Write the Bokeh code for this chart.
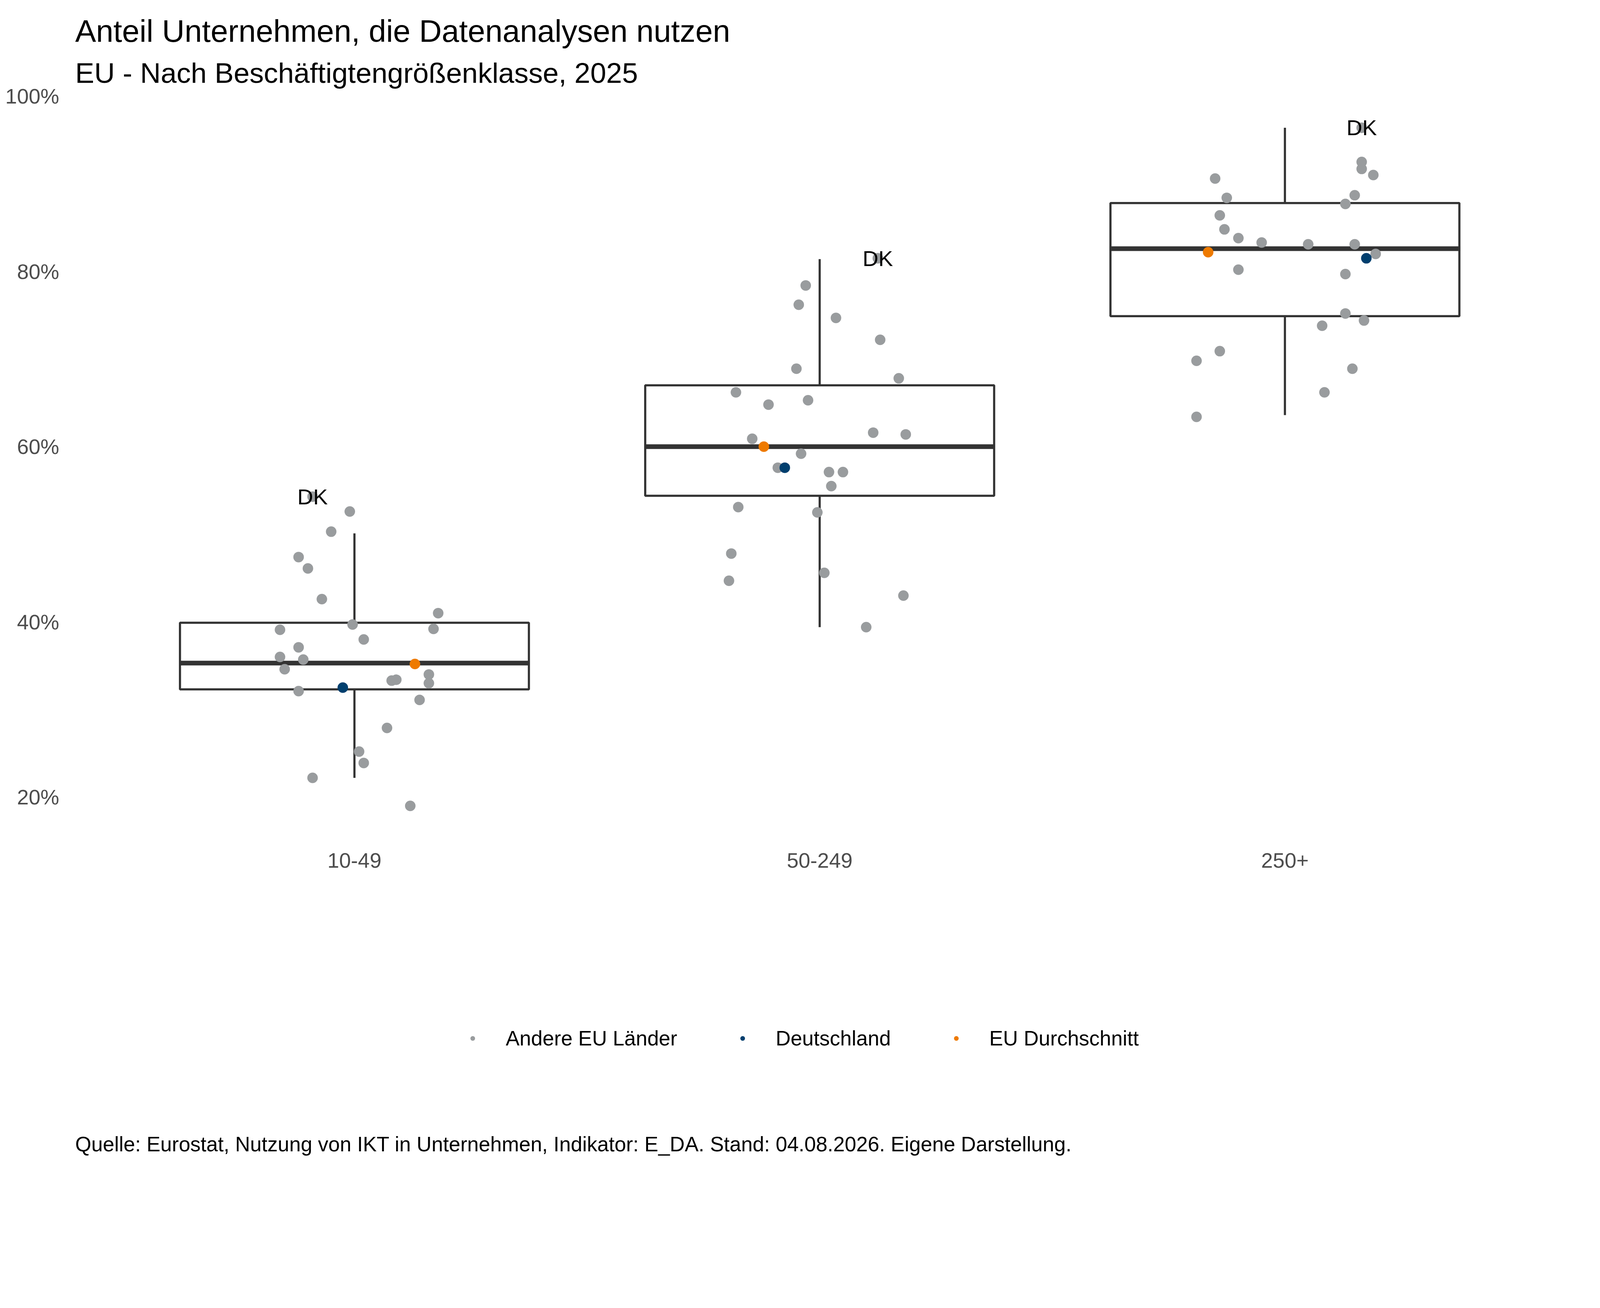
from bokeh.plotting import figure
from bokeh.models import (FixedTicker, Title, Legend, LegendItem, Range1d)
from bokeh.core.properties import value
from bokeh.embed import file_html
from bokeh.resources import INLINE

categories = ["10-49", "50-249", "250+"]
# other EU countries: values (%) and horizontal jitter (category units)
vals_a = [54.3, 52.6, 50.3, 47.4, 46.1, 42.6, 41.0, 39.7, 39.2, 39.1, 38.0, 37.1, 36.0, 35.7, 34.6, 34.0, 33.4, 33.3, 33.0, 32.1, 31.1, 27.9, 25.2, 23.9, 22.2, 19.0]
jit_a = [-0.09, -0.01, -0.05, -0.12, -0.10, -0.07, 0.18, -0.004, 0.17, -0.16, 0.02, -0.12, -0.16, -0.11, -0.15, 0.16, 0.09, 0.08, 0.16, -0.12, 0.14, 0.07, 0.01, 0.02, -0.09, 0.12]
vals_b = [81.5, 78.4, 76.2, 74.7, 72.2, 68.9, 67.8, 66.2, 64.8, 65.3, 61.6, 61.4, 60.9, 59.2, 57.6, 57.1, 57.1, 55.5, 53.1, 52.5, 47.8, 44.7, 45.6, 43.0, 39.4]
jit_b = [0.125, -0.03, -0.045, 0.035, 0.13, -0.05, 0.17, -0.18, -0.11, -0.025, 0.115, 0.185, -0.145, -0.04, -0.09, 0.02, 0.05, 0.025, -0.175, -0.005, -0.19, -0.195, 0.01, 0.18, 0.1]
vals_c = [96.4, 92.5, 91.7, 91.0, 90.6, 88.7, 88.4, 87.7, 86.4, 84.8, 83.8, 83.3, 83.1, 83.1, 82.0, 80.2, 79.7, 75.2, 74.4, 73.8, 70.9, 69.8, 68.9, 66.2, 63.4]
jit_c = [0.165, 0.165, 0.165, 0.19, -0.15, 0.15, -0.125, 0.13, -0.14, -0.13, -0.1, -0.05, 0.05, 0.15, 0.195, -0.1, 0.13, 0.13, 0.17, 0.08, -0.14, -0.19, 0.145, 0.085, -0.19]
de_vals = [32.5, 57.6, 81.5]
de_jit = [-0.025, -0.075, 0.175]
eu_vals = [35.2, 60.0, 82.2]
eu_jit = [0.13, -0.12, -0.165]
# box statistics
q1 = [32.3, 54.4, 74.9]
med = [35.3, 60.0, 82.6]
q3 = [39.9, 67.0, 87.8]
wlo = [22.2, 39.4, 63.6]
whi = [50.1, 81.4, 96.4]
dk_vals = [54.3, 81.5, 96.4]
dk_jit = [-0.09, 0.125, 0.165]

S = 2.58
FONT = "Liberation Sans"
p = figure(frame_width=int(1460 * S), frame_height=int(713 * S), output_backend="svg",
           toolbar_location=None,
           x_range=Range1d(-0.617, 2.545), y_range=Range1d(18.3, 100.3),
           min_border_left=int(70 * S - 8), min_border_right=30,
           min_border_top=int(96 * S - 8), min_border_bottom=10)
p.outline_line_color = None
p.grid.grid_line_color = None
for ax in (p.xaxis, p.yaxis):
    ax.axis_line_color = None
    ax.major_tick_line_color = None
    ax.minor_tick_line_color = None
    ax.major_label_text_color = "#4d4d4d"
    ax.major_label_text_font = FONT
    ax.major_label_text_font_size = "54px"
p.xaxis.ticker = FixedTicker(ticks=[0, 1, 2])
p.xaxis.major_label_overrides = {i: c for i, c in enumerate(categories)}
p.xaxis.major_label_standoff = 99
p.yaxis.ticker = FixedTicker(ticks=[20, 40, 60, 80, 100])
p.yaxis.major_label_overrides = {v: f"{v}%" for v in [20, 40, 60, 80, 100]}
p.yaxis.major_label_standoff = 15

xs = [0, 1, 2]
hw = 0.375
p.segment(x0=xs, x1=xs, y0=wlo, y1=q1, line_color="#333333", line_width=5.5)
p.segment(x0=xs, x1=xs, y0=q3, y1=whi, line_color="#333333", line_width=5.5)
p.quad(left=[x - hw for x in xs], right=[x + hw for x in xs], bottom=q1, top=q3,
       fill_color=None, line_color="#333333", line_width=5.5)
p.segment(x0=[x - hw for x in xs], x1=[x + hw for x in xs], y0=med, y1=med,
          line_color="#333333", line_width=12)

ox = [j for j in jit_a] + [1 + j for j in jit_b] + [2 + j for j in jit_c]
oy = vals_a + vals_b + vals_c
r_o = p.scatter(ox, oy, size=27, color="#999c9e", line_color=None)
r_de = p.scatter([i + j for i, j in zip(xs, de_jit)], de_vals, size=27, color="#003f6e", line_color=None)
r_eu = p.scatter([i + j for i, j in zip(xs, eu_jit)], eu_vals, size=27, color="#ee7a00", line_color=None)

p.text(x=[i + j for i, j in zip(xs, dk_jit)], y=dk_vals, text=["DK"] * 3,
       text_align="center", text_baseline="middle", text_font_size="56px",
       text_font=value(FONT), text_color="black")

p.add_layout(Title(text=" ", text_font_size="10px", standoff=110), "below")
legend = Legend(items=[LegendItem(label="Andere EU Länder", renderers=[r_o]),
                       LegendItem(label="Deutschland", renderers=[r_de]),
                       LegendItem(label="EU Durchschnitt", renderers=[r_eu])],
                orientation="horizontal", location="center", border_line_color=None,
                label_text_font=FONT, label_text_font_size="53px", label_text_color="black",
                glyph_width=30, glyph_height=50, spacing=152, label_standoff=70,
                padding=0, margin=5, background_fill_alpha=0)
p.add_layout(legend, "below")
p.add_layout(Title(text="Quelle: Eurostat, Nutzung von IKT in Unternehmen, Indikator: E_DA. Stand: 04.08.2026. Eigene Darstellung.",
                   text_font=FONT, text_font_size="53px", text_font_style="normal",
                   text_color="black", offset=20, standoff=80), "below")
p.add_layout(Title(text="EU - Nach Beschäftigtengrößenklasse, 2025", text_font=FONT,
                   text_font_size="73px", text_font_style="normal", text_color="black",
                   offset=20, standoff=25), "above")
p.add_layout(Title(text="Anteil Unternehmen, die Datenanalysen nutzen", text_font=FONT,
                   text_font_size="80px", text_font_style="normal", text_color="black",
                   offset=20, standoff=15), "above")

open("out.html", "w").write(file_html(p, INLINE))
